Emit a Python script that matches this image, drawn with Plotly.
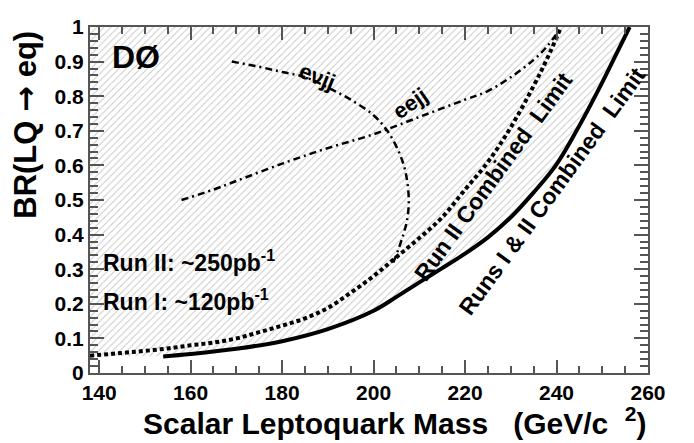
import plotly.graph_objects as go

# Runs I & II combined limit (solid)
comb_mass = [154, 160, 170, 180, 190, 200, 205, 210, 215, 220, 225, 230, 235, 240, 245, 250, 253, 256]
comb_br = [0.048, 0.055, 0.07, 0.092, 0.127, 0.18, 0.22, 0.262, 0.303, 0.345, 0.392, 0.45, 0.522, 0.603, 0.715, 0.84, 0.92, 1.0]

# Run II combined limit (dotted)
run2_mass = [138, 145, 150, 155, 160, 165, 170, 175, 180, 185, 190, 195, 200, 205, 210, 215, 220, 225, 230, 235, 238, 241]
run2_br = [0.05, 0.058, 0.064, 0.071, 0.08, 0.088, 0.10, 0.118, 0.137, 0.158, 0.188, 0.232, 0.28, 0.335, 0.39, 0.45, 0.53, 0.61, 0.71, 0.83, 0.91, 1.0]

# e nu jj channel (dash-dot)
enjj_mass = [169, 175, 180, 185, 190, 195, 200, 203, 205.5, 207, 207.7, 207.3, 206.5, 205.5, 204]
enjj_br = [0.90, 0.885, 0.87, 0.855, 0.825, 0.79, 0.745, 0.70, 0.64, 0.58, 0.50, 0.44, 0.40, 0.36, 0.31]

# eejj channel (dash-dot)
eejj_mass = [158, 165, 170, 180, 190, 200, 210, 220, 225, 230, 235, 238, 240.5]
eejj_br = [0.50, 0.53, 0.555, 0.605, 0.65, 0.69, 0.74, 0.79, 0.815, 0.855, 0.905, 0.945, 0.99]

x_tick_vals = [140, 160, 180, 200, 220, 240, 260]
y_tick_vals = [0, 0.1, 0.2, 0.3, 0.4, 0.5, 0.6, 0.7, 0.8, 0.9, 1.0]
y_tick_text = ["0", "0.1", "0.2", "0.3", "0.4", "0.5", "0.6", "0.7", "0.8", "0.9", "1"]

FONT = "Liberation Sans, Arial, Helvetica, sans-serif"
AX = "#555555"

fig = go.Figure()

# hatched excluded region (left/above the combined limit)
fig.add_trace(go.Scatter(
    x=[138] + comb_mass + [138],
    y=[0.05] + comb_br + [1.0],
    mode="lines", line=dict(width=0), fill="toself",
    fillcolor="rgba(0,0,0,0)",
    fillpattern=dict(shape="/", fgcolor="#8c8c8c", bgcolor="white", size=5, solidity=0.18),
    hoverinfo="skip", showlegend=False))

fig.add_trace(go.Scatter(x=eejj_mass, y=eejj_br, mode="lines", line_shape="spline",
                         line=dict(color="black", width=2.5, dash="7px,4px,2px,4px"), showlegend=False))
fig.add_trace(go.Scatter(x=enjj_mass, y=enjj_br, mode="lines", line_shape="spline",
                         line=dict(color="black", width=2.5, dash="7px,4px,2px,4px"), showlegend=False))
fig.add_trace(go.Scatter(x=run2_mass, y=run2_br, mode="lines", line_shape="spline",
                         line=dict(color="black", width=4, dash="4px,3px"), showlegend=False))
fig.add_trace(go.Scatter(x=comb_mass, y=comb_br, mode="lines", line_shape="spline",
                         line=dict(color="black", width=4), showlegend=False))

def bold(size):
    return dict(family=FONT, size=size, color="black", weight="bold")

annotations = [
    dict(x=148, y=0.913, text="DØ", font=bold(32)),
    dict(x=187.7, y=0.857, text="eνjj", textangle=22, font=bold(22)),
    dict(x=208.0, y=0.778, text="eejj", textangle=-35, font=bold(22)),
    dict(x=226.3, y=0.568, text="Run II Combined\u00a0 Limit", textangle=-54, font=bold(23)),
    dict(x=239.0, y=0.527, text="Runs I & II Combined\u00a0 Limit", textangle=-54, font=bold(23)),
    dict(x=140.3, y=0.325, text="Run II: ~250pb<sup>-1</sup>", xanchor="left", font=bold(23)),
    dict(x=140.3, y=0.212, text="Run I: ~120pb<sup>-1</sup>", xanchor="left", font=bold(23)),
]
for a in annotations:
    a["xref"] = "x"
    a["yref"] = "y"
    a["showarrow"] = False

# axis titles as annotations (positioned relative to the plot area)
annotations.append(dict(
    x=-0.118, y=0.718, xref="paper", yref="y", xanchor="center", yanchor="middle", showarrow=False,
    text="BR(LQ <span style=\"font-family:'DejaVu Sans'\">\u2192</span> eq)", textangle=-90, font=bold(31)))
annotations.append(dict(
    x=0.547, y=-0.14, xref="paper", yref="paper", xanchor="center", yanchor="middle", showarrow=False,
    text="Scalar Leptoquark Mass\u00a0\u00a0\u00a0(GeV/c\u00a0 <sup>2</sup>)", font=bold(30)))
fig.update_layout(annotations=annotations)

axis_common = dict(
    showline=True, linecolor=AX, linewidth=2, mirror="allticks",
    ticks="inside", tickcolor=AX, tickwidth=1.5,
    showgrid=False, zeroline=False,
    tickfont=bold(21), ticklabeloverflow="allow",
)

fig.update_xaxes(
    range=[138, 260], tickvals=x_tick_vals, ticklen=13,
    minor=dict(dtick=5, tick0=140, ticks="inside", ticklen=7, tickcolor=AX, tickwidth=1.5),
    **axis_common)
fig.update_yaxes(
    range=[0, 1], tickvals=y_tick_vals, ticktext=y_tick_text, ticklen=14,
    minor=dict(dtick=0.02, tick0=0, ticks="inside", ticklen=8, tickcolor=AX, tickwidth=1.5),
    **axis_common)

# the page body adds an 8px offset, so margins are shifted to keep the plot area in place
fig.update_layout(
    width=694, height=443,
    margin=dict(l=82, r=54, t=7, b=78),
    plot_bgcolor="white", paper_bgcolor="white",
    showlegend=False,
)

fig.write_html("out.html")
